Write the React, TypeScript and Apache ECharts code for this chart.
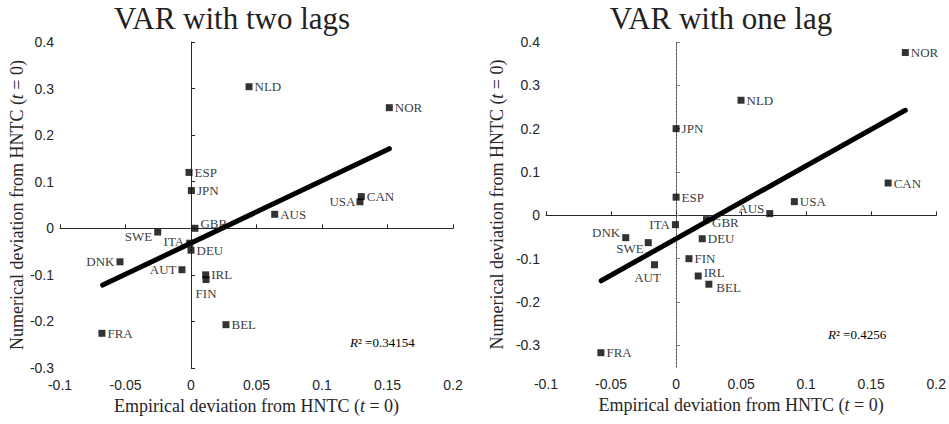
import React, { useEffect, useRef } from 'react';
import * as echarts from 'echarts';

// ---- Data: VAR with two lags ----
const countriesTwo = ['NLD', 'NOR', 'ESP', 'JPN', 'USA', 'CAN', 'AUS', 'GBR', 'SWE', 'ITA', 'DEU', 'DNK', 'AUT', 'IRL', 'FIN', 'BEL', 'FRA'];
const empTwo = [0.0443, 0.1514, -0.0015, 0.0003, 0.129, 0.130, 0.0639, 0.003, -0.0254, -0.001, 0.0, -0.0542, -0.0069, 0.0112, 0.0115, 0.0267, -0.068];
const numTwo = [0.304, 0.259, 0.120, 0.081, 0.057, 0.068, 0.030, 0.000, -0.008, -0.032, -0.047, -0.072, -0.089, -0.100, -0.110, -0.207, -0.2255];
const fitTwoX = [-0.0674, 0.1514];
const fitTwoY = [-0.122, 0.171];
const r2Two = '0.34154';

// ---- Data: VAR with one lag ----
const countriesOne = ['NOR', 'NLD', 'JPN', 'CAN', 'ESP', 'USA', 'AUS', 'GBR', 'ITA', 'DNK', 'DEU', 'SWE', 'FIN', 'AUT', 'IRL', 'BEL', 'FRA'];
const empOne = [0.1762, 0.0499, 0.0, 0.163, 0.0, 0.0909, 0.072, 0.0234, -0.0005, -0.0387, 0.0201, -0.0214, 0.0099, -0.0166, 0.017, 0.0252, -0.0578];
const numOne = [0.3757, 0.2656, 0.200, 0.0746, 0.042, 0.0316, 0.004, -0.010, -0.0215, -0.0515, -0.054, -0.063, -0.100, -0.114, -0.140, -0.159, -0.317];
const fitOneX = [-0.0576, 0.1762];
const fitOneY = [-0.151, 0.2425];
const r2One = '0.4256';

// ---- Axis ticks ----
const xTicks = [-0.1, -0.05, 0, 0.05, 0.1, 0.15, 0.2];
const yTicksTwo = [-0.3, -0.2, -0.1, 0, 0.1, 0.2, 0.3, 0.4];
const yTicksOne = [-0.3, -0.2, -0.1, 0, 0.1, 0.2, 0.3, 0.4];

const titles = ['VAR with two lags', 'VAR with one lag'];
const xName = 'Empirical deviation from HNTC ({i|t} = 0)';
const yName = 'Numerical deviation from HNTC ({i|t} = 0)';

// ---- Label placement styles (per country) ----
type Place = [string, number[]?];
const placeTwo: Record<string, Place> = {
  NLD: ['right'], NOR: ['right'], ESP: ['right'], JPN: ['right'], USA: ['left', [1, 0]], CAN: ['right'],
  AUS: ['right'], GBR: ['right', [0, -5]], SWE: ['left', [0, 4]], ITA: ['left', [0, -2]], DEU: ['right'],
  DNK: ['left'], AUT: ['left'], IRL: ['right'], FIN: ['bottom', [0, 2]], BEL: ['right'], FRA: ['right'],
};
const placeOne: Record<string, Place> = {
  NOR: ['right'], NLD: ['right'], JPN: ['right'], CAN: ['right'], ESP: ['right'], USA: ['right'],
  AUS: ['left', [0, -5]], GBR: ['right', [0, 3]], ITA: ['left'], DNK: ['left', [0, -5]], DEU: ['right'],
  SWE: ['left', [1, 6]], FIN: ['right'], AUT: ['bottom', [-7, 1]], IRL: ['right', [0, -4]], BEL: ['right', [2, 3]],
  FRA: ['right'],
};

const SERIF = '"Liberation Serif", "Times New Roman", serif';
const SANS = '"Liberation Sans", Arial, sans-serif';
const DARK = '#262626';

function pointData(names: string[], xs: number[], ys: number[], place: Record<string, Place>) {
  return names.map((n, i) => {
    const p = place[n] || ['right'];
    return {
      name: n,
      value: [xs[i], ys[i]],
      label: { position: p[0], offset: p[1] || [0, 0] },
    };
  });
}

function makeXAxis(gridIndex: number) {
  return {
    type: 'value',
    gridIndex,
    min: -0.1,
    max: 0.2,
    interval: 0.05,
    axisLine: { show: true, lineStyle: { color: DARK, width: 1 } },
    axisTick: { show: true, inside: true, length: 4, lineStyle: { color: DARK }, customValues: xTicks },
    axisLabel: { color: DARK, fontFamily: SANS, fontSize: 14, margin: 10, customValues: xTicks },
    splitLine: { show: false },
    name: xName,
    nameLocation: 'middle',
    nameGap: 26,
    nameTextStyle: {
      fontFamily: SERIF, fontSize: 18, color: DARK,
      rich: { i: { fontFamily: SERIF, fontSize: 18, fontStyle: 'italic', color: DARK } },
    },
  };
}

function makeYAxis(gridIndex: number, min: number, ticks: number[], lineColor: string, gap: number) {
  return {
    type: 'value',
    gridIndex,
    min,
    max: 0.4,
    axisLine: { show: true, lineStyle: { color: lineColor, width: 1 } },
    axisTick: { show: true, inside: true, length: 4, lineStyle: { color: lineColor }, customValues: ticks },
    axisLabel: { color: DARK, fontFamily: SANS, fontSize: 14, margin: 6, customValues: ticks },
    splitLine: { show: false },
    name: yName,
    nameLocation: 'middle',
    nameGap: gap,
    nameTextStyle: {
      fontFamily: SERIF, fontSize: 18, color: DARK,
      rich: { i: { fontFamily: SERIF, fontSize: 18, fontStyle: 'italic', color: DARK } },
    },
  };
}

function scatterSeries(idx: number, names: string[], xs: number[], ys: number[], place: Record<string, Place>) {
  return {
    type: 'scatter',
    xAxisIndex: idx,
    yAxisIndex: idx,
    symbol: 'rect',
    symbolSize: 7,
    itemStyle: { color: '#000' },
    z: 3,
    label: {
      show: true,
      formatter: '{b}',
      fontFamily: SERIF,
      fontSize: 13,
      color: '#000',
      distance: 2,
    },
    data: pointData(names, xs, ys, place),
    markLine: {
      silent: true,
      symbol: ['none', 'none'],
      label: { show: false },
      lineStyle: { type: [1, 2.4], color: '#333', width: 1 },
      data: [{ xAxis: 0 }, { yAxis: 0 }],
    },
  };
}

function fitSeries(idx: number, xs: number[], ys: number[]) {
  return {
    type: 'line',
    xAxisIndex: idx,
    yAxisIndex: idx,
    symbol: 'none',
    z: 4,
    lineStyle: { color: '#000', width: 5, cap: 'round' },
    data: xs.map((x, i) => [x, ys[i]]),
  };
}

function r2Text(x: number, y: number, val: string) {
  return {
    type: 'text',
    x,
    y,
    style: {
      text: '{i|R}² =' + val,
      fontFamily: SERIF,
      fontSize: 13,
      fill: '#000',
      textVerticalAlign: 'middle',
      rich: { i: { fontFamily: SERIF, fontSize: 13, fontStyle: 'italic', color: '#000' } },
    },
  };
}

function titleText(x: number, text: string) {
  return {
    type: 'text',
    x,
    y: 18,
    style: {
      text,
      fontFamily: SERIF,
      fontSize: 31,
      fill: '#222',
      textAlign: 'center',
      textVerticalAlign: 'middle',
    },
  };
}

export default function App() {
  const ref = useRef<HTMLDivElement>(null);
  useEffect(() => {
    if (!ref.current) return;
    const chart = echarts.init(ref.current, null, { renderer: 'svg' });
    chart.setOption({
      animation: false,
      backgroundColor: '#fff',
      grid: [
        { left: 60, top: 42, width: 393, height: 326 },
        { left: 546, top: 42, width: 392, height: 325 },
      ],
      xAxis: [makeXAxis(0), makeXAxis(1)],
      yAxis: [
        makeYAxis(0, -0.3, yTicksTwo, DARK, 34),
        makeYAxis(1, -0.35, yTicksOne, '#808080', 40),
      ],
      series: [
        scatterSeries(0, countriesTwo, empTwo, numTwo, placeTwo),
        fitSeries(0, fitTwoX, fitTwoY),
        scatterSeries(1, countriesOne, empOne, numOne, placeOne),
        fitSeries(1, fitOneX, fitOneY),
      ],
      graphic: [
        titleText(232, titles[0]),
        titleText(721, titles[1]),
        r2Text(350, 342, r2Two),
        r2Text(828, 334, r2One),
      ],
    });
    return () => chart.dispose();
  }, []);
  return <div ref={ref} style={{ position: 'fixed', left: 0, top: 0, width: 949, height: 424 }} />;
}
